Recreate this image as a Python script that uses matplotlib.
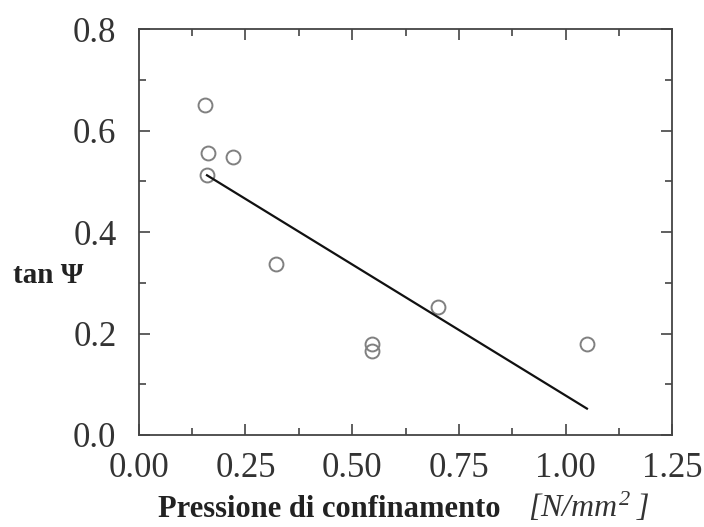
import matplotlib
matplotlib.use("Agg")
import matplotlib.pyplot as plt
from matplotlib.ticker import MultipleLocator

# Measured dilatancy data: confining pressure vs tan(psi)
pressure = [0.156, 0.162, 0.221, 0.160, 0.321, 0.546, 0.546, 0.702, 1.050]
tan_psi = [0.650, 0.556, 0.548, 0.512, 0.338, 0.179, 0.166, 0.252, 0.179]

# Linear trend endpoints
trend_x = [0.160, 1.050]
trend_y = [0.512, 0.052]

x_ticks = [0.00, 0.25, 0.50, 0.75, 1.00, 1.25]
x_tick_labels = ["0.00", "0.25", "0.50", "0.75", "1.00", "1.25"]
y_ticks = [0.0, 0.2, 0.4, 0.6, 0.8]
y_tick_labels = ["0.0", "0.2", "0.4", "0.6", "0.8"]

plt.rcParams["font.family"] = ["Liberation Serif", "DejaVu Serif"]
plt.rcParams["mathtext.fontset"] = "custom"
plt.rcParams["mathtext.rm"] = "Liberation Serif:italic"
plt.rcParams["mathtext.it"] = "Liberation Serif:italic"

fig = plt.figure(figsize=(7.04, 5.27), dpi=100)
ax = fig.add_axes([0.197, 0.1746, 0.758, 0.770])

ax.plot(pressure, tan_psi, linestyle="none", marker="o", markersize=10,
        markerfacecolor="none", markeredgecolor="#808080", markeredgewidth=1.4)
ax.plot(trend_x, trend_y, color="#111111", linewidth=1.6)

ax.set_xlim(0, 1.25)
ax.set_ylim(0, 0.8)
ax.set_xticks(x_ticks)
ax.set_xticklabels(x_tick_labels)
ax.set_yticks(y_ticks)
ax.set_yticklabels(y_tick_labels)
ax.xaxis.set_minor_locator(MultipleLocator(0.125))
ax.yaxis.set_minor_locator(MultipleLocator(0.1))

ax.tick_params(which="both", direction="in", top=True, right=True,
               color="#444444", width=1.2)
ax.tick_params(which="major", length=8, labelsize=25, labelcolor="#333333")
ax.tick_params(axis="x", which="major", pad=12)
ax.tick_params(axis="y", which="major", pad=16)
ax.tick_params(which="minor", length=5)
for s in ax.spines.values():
    s.set_color("#444444")
    s.set_linewidth(1.3)

# Axis titles
fig.text(0.224, 1 - 517 / 527, "Pressione di confinamento", fontsize=22,
         fontweight="bold", color="#222222", ha="left", va="baseline")
fig.text(0.750, 1 - 517 / 527, r"$[N/mm^{2}\;]$", fontsize=23, color="#333333",
         ha="left", va="baseline")
fig.text(0.018, 1 - 283 / 527, "tan \u03a8", fontsize=21, fontweight="bold",
         color="#222222", ha="left", va="baseline")

fig.savefig("out.png", dpi=100, facecolor="white")
